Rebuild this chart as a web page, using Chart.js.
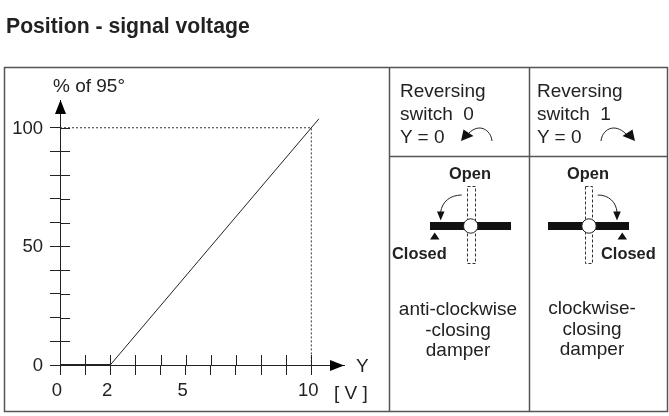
<!DOCTYPE html>
<html lang="en">
<head>
    <meta charset="UTF-8">
    <title>Position - signal voltage</title>
    <script src="https://cdn.jsdelivr.net/npm/chart.js"></script>
    <style>
        html, body { margin: 0; background: #fff; }
        #wrap { position: relative; width: 669px; height: 416px; overflow: hidden; }
        #wrap canvas, #wrap svg { position: absolute; left: 0; top: 0; }
        svg text { font-family: "Liberation Sans", Arial, sans-serif; font-size: 19px; fill: #222; }
        svg text.b { font-weight: bold; font-size: 16.4px; }
        svg text.title { font-weight: bold; font-size: 21.2px; }
        svg text.c { text-anchor: middle; }
    </style>
</head>
<body>
<div id="wrap">
    <canvas id="chart" width="669" height="416"></canvas>
    <svg width="669" height="416" viewBox="0 0 669 416">
        <text class="title" x="6" y="33">Position - signal voltage</text>

        <!-- frame -->
        <g stroke="#555" stroke-width="1.5" fill="none">
            <rect x="4.5" y="67.5" width="663" height="344"/>
            <path d="M389.5 67.5V411.5M529.5 67.5V411.5M389.5 156.5H667.5"/>
        </g>

        <!-- axis words -->
        <text x="53" y="92">% of 95°</text>
        <text x="356" y="372">Y</text>
        <text x="334" y="399">[ V ]</text>

        <!-- reversing switch -->
        <text x="400" y="97">Reversing</text>
        <text x="400" y="120">switch&#160;&#160;0</text>
        <text x="400" y="143">Y = 0</text>
        <text x="537" y="97">Reversing</text>
        <text x="537" y="120">switch&#160;&#160;1</text>
        <text x="537" y="143">Y = 0</text>
        <g stroke="#222" stroke-width="1" fill="none">
            <path d="M492 141C491 130 479 122 468 134"/>
            <path d="M601 141C602 130 614 122 626 134"/>
        </g>
        <path d="M461 141L463.5 129.5L473.5 136Z M635 141L632.5 129.5L622.5 136Z" fill="#111"/>

        <!-- dampers -->
        <g stroke="#333" stroke-width="1" stroke-dasharray="3 2" fill="none">
            <rect x="467.5" y="186.5" width="8" height="77"/>
            <rect x="585.5" y="186.5" width="7" height="77"/>
        </g>
        <rect x="430" y="222" width="81" height="8" fill="#111"/>
        <rect x="548" y="222" width="81" height="8" fill="#111"/>
        <circle cx="470.7" cy="226" r="7.2" fill="#fff" stroke="#222"/>
        <circle cx="589" cy="226" r="7.2" fill="#fff" stroke="#222"/>
        <path d="M434.7 232.5L430 239.5H439.5Z M622.3 232.5L617.5 239.5H627Z" fill="#111"/>
        <g stroke="#222" stroke-width="1" fill="none">
            <path d="M461.7 195C450 195 442 202 440.7 212"/>
            <path d="M597.7 195C609 195 616 202 617 212"/>
        </g>
        <path d="M440.7 220.5L437 211.5H444.5Z M617 220.5L613.2 211.5H620.8Z" fill="#111"/>
        <text class="b" x="449" y="179">Open</text>
        <text class="b" x="567" y="179">Open</text>
        <text class="b" x="392" y="259">Closed</text>
        <text class="b" x="601" y="259">Closed</text>

        <!-- damper captions -->
        <text class="c" x="458" y="315">anti-clockwise</text>
        <text class="c" x="458" y="336">-closing</text>
        <text class="c" x="458" y="356">damper</text>
        <text class="c" x="592" y="314">clockwise-</text>
        <text class="c" x="592" y="335">closing</text>
        <text class="c" x="592" y="355">damper</text>
    </svg>
</div>

<script>
    // values
    const signalVolts = [2, 10.3];
    const positionPct = [0, 103.75];
    const deadVolts = [0, 2];
    const deadPct = [0, 0];
    const guideVolts = [0, 10, 10];
    const guidePct = [100, 100, 0];

    const xTicks = [0, 1, 2, 3, 4, 5, 6, 7, 8, 9, 10];
    const xTickLabels = [0, 2, 5, 10];
    const yTicks = [0, 10, 20, 30, 40, 50, 60, 70, 80, 90, 100];
    const yTickLabels = [0, 50, 100];

    const toPoints = (xs, ys) => xs.map((x, i) => ({ x: x, y: ys[i] }));
    const INK = '#222';
    const tickHalf = 10;

    // ticks cross the axis, and the axes end in arrows
    const axisExtras = {
        id: 'axisExtras',
        afterDatasetsDraw(chart) {
            const ctx = chart.ctx;
            const sx = chart.scales.x;
            const sy = chart.scales.y;
            const x0 = sx.getPixelForValue(0);
            const y0 = sy.getPixelForValue(0);
            ctx.save();
            ctx.strokeStyle = INK;
            ctx.lineWidth = 1;
            ctx.beginPath();
            xTicks.slice(1).forEach(v => {
                const px = Math.round(sx.getPixelForValue(v)) + 0.5;
                ctx.moveTo(px, y0);
                ctx.lineTo(px, y0 - tickHalf);
            });
            yTicks.slice(1).forEach(v => {
                const py = Math.round(sy.getPixelForValue(v)) + 0.5;
                ctx.moveTo(x0, py);
                ctx.lineTo(x0 + tickHalf, py);
            });
            ctx.stroke();

            ctx.fillStyle = '#000';
            ctx.beginPath();
            ctx.moveTo(x0 + 0.5, sy.top);
            ctx.lineTo(x0 - 5, sy.top + 14);
            ctx.lineTo(x0 + 6, sy.top + 14);
            ctx.closePath();
            ctx.moveTo(sx.right, y0 + 0.5);
            ctx.lineTo(sx.right - 14, y0 - 5);
            ctx.lineTo(sx.right - 14, y0 + 6);
            ctx.closePath();
            ctx.fill();
            ctx.restore();
        }
    };

    new Chart(document.getElementById('chart'), {
        type: 'scatter',
        data: {
            datasets: [
                {
                    data: toPoints(signalVolts, positionPct),
                    showLine: true,
                    borderColor: INK,
                    borderWidth: 1,
                    pointRadius: 0
                },
                {
                    data: toPoints(deadVolts, deadPct),
                    showLine: true,
                    borderColor: INK,
                    borderWidth: 2,
                    pointRadius: 0
                },
                {
                    data: toPoints(guideVolts, guidePct),
                    showLine: true,
                    borderColor: '#333',
                    borderWidth: 1,
                    borderDash: [2, 2],
                    pointRadius: 0
                }
            ]
        },
        plugins: [axisExtras],
        options: {
            responsive: false,
            animation: false,
            layout: { padding: { top: 100, right: 325, left: 0, bottom: 0 } },
            plugins: { legend: { display: false }, tooltip: { enabled: false } },
            scales: {
                x: {
                    type: 'linear',
                    min: 0,
                    max: 11.3,
                    afterFit: s => { s.height = 51; },
                    afterBuildTicks: s => { s.ticks = xTicks.map(v => ({ value: v })); },
                    border: { color: INK, width: 1 },
                    grid: { drawOnChartArea: false, color: INK, tickLength: tickHalf },
                    ticks: {
                        autoSkip: false,
                        maxRotation: 0,
                        padding: 5,
                        labelOffset: -3,
                        color: INK,
                        font: { family: '"Liberation Sans", Arial, sans-serif', size: 18.5 },
                        callback: v => xTickLabels.includes(v) ? String(v) : ''
                    }
                },
                y: {
                    type: 'linear',
                    min: 0,
                    max: 111.7,
                    afterFit: s => { s.width = 60; },
                    afterBuildTicks: s => { s.ticks = yTicks.map(v => ({ value: v })); },
                    border: { color: INK, width: 1 },
                    grid: { drawOnChartArea: false, color: INK, tickLength: tickHalf },
                    ticks: {
                        autoSkip: false,
                        padding: 7,
                        labelOffset: 1,
                        color: INK,
                        font: { family: '"Liberation Sans", Arial, sans-serif', size: 18.5 },
                        callback: v => yTickLabels.includes(v) ? String(v) : ''
                    }
                }
            }
        }
    });
</script>
</body>
</html>
